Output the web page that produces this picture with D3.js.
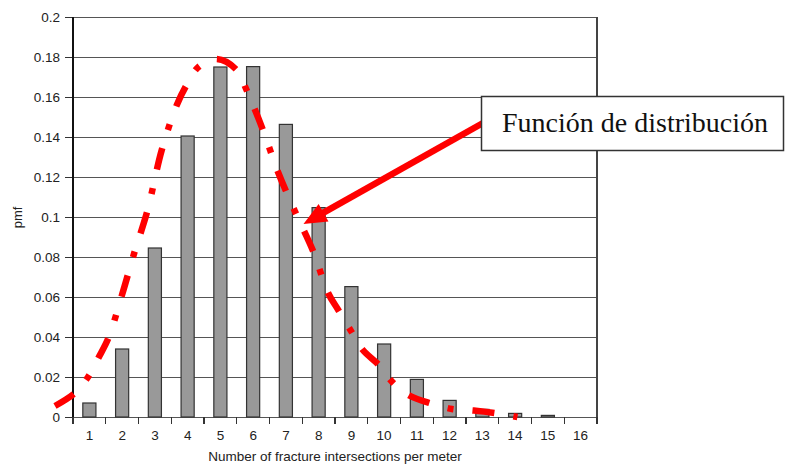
<!DOCTYPE html>
<html>
<head>
<meta charset="utf-8">
<script src="https://cdn.jsdelivr.net/npm/d3@7"></script>
<style>
  html, body { margin: 0; padding: 0; background: #fff; }
  svg { display: block; }
</style>
</head>
<body>
<svg id="chart" width="785" height="464"></svg>
<script>
// ---- data ----
const categories = [1, 2, 3, 4, 5, 6, 7, 8, 9, 10, 11, 12, 13, 14, 15, 16];
const pmfValues = [0.007, 0.034, 0.0845, 0.1405, 0.175, 0.1752, 0.1463, 0.1047, 0.0652, 0.0365, 0.0188, 0.0083, 0.0038, 0.0018, 0.0008, 0];
const yTicks = [0, 0.02, 0.04, 0.06, 0.08, 0.1, 0.12, 0.14, 0.16, 0.18, 0.2];
const yTickLabels = ["0", "0.02", "0.04", "0.06", "0.08", "0.1", "0.12", "0.14", "0.16", "0.18", "0.2"];
// hand-drawn distribution curve (x in category units, pmf value)
const curveX = [-0.05, 0.56, 0.96, 1.27, 1.58, 1.99, 2.37, 2.77, 3.21, 3.67, 3.97, 4.33, 4.89, 5.5, 5.8, 6.3, 6.76, 7.28, 7.83, 8.29, 8.6, 9.0, 9.35, 9.84, 10.26, 10.8, 11.42, 12.07, 12.74, 13.44, 14.07];
const curveY = [0.0055, 0.012, 0.020, 0.0294, 0.0394, 0.0607, 0.082, 0.103, 0.1335, 0.156, 0.166, 0.175, 0.179, 0.1735, 0.1635, 0.1435, 0.1225, 0.1027, 0.083, 0.062, 0.0535, 0.0427, 0.0335, 0.026, 0.0173, 0.0105, 0.0068, 0.004, 0.0032, 0.0018, 0.0];
const yTitle = "pmf";
const xTitle = "Number of fracture intersections per meter";
const annotationText = "Función de distribución";

(function () {
// ---- layout ----
const pLeft = 73, pRight = 597, pTop = 17, pBottom = 417;
const svg = d3.select("#chart");
svg.append("rect").attr("width", 785).attr("height", 464).attr("fill", "#fff");

const x = d3.scaleBand().domain(categories).range([pLeft, pRight]).padding(0);
const xLin = d3.scaleLinear().domain([0.5, 16.5]).range([pLeft, pRight]);
const y = d3.scaleLinear().domain([0, 0.2]).range([pBottom, pTop]);

const sansFont = "'Liberation Sans', Arial, sans-serif";

// gridlines
svg.append("g")
  .attr("transform", `translate(${pLeft},0)`)
  .call(d3.axisLeft(y).tickValues(yTicks).tickSize(-(pRight - pLeft)).tickFormat(""))
  .call(g => g.select(".domain").remove())
  .call(g => g.selectAll("line").attr("stroke", "#555").attr("stroke-width", 1).attr("shape-rendering", "crispEdges"));

// y axis ticks + labels
svg.append("g")
  .attr("transform", `translate(${pLeft},0)`)
  .call(d3.axisLeft(y).tickValues(yTicks).tickFormat((d, i) => yTickLabels[i]).tickSize(8).tickPadding(5))
  .call(g => g.select(".domain").remove())
  .call(g => g.selectAll("line").attr("stroke", "#333").attr("shape-rendering", "crispEdges"))
  .call(g => g.selectAll("text").attr("font-family", sansFont).attr("font-size", "13.5px").attr("fill", "#222"));

// bars
const barFrac = 0.4;
svg.append("g").selectAll("rect")
  .data(categories.map((c, i) => ({ c, v: pmfValues[i] })).filter(d => d.v > 0))
  .join("rect")
  .attr("x", d => x(d.c) + x.bandwidth() * (1 - barFrac) / 2)
  .attr("width", x.bandwidth() * barFrac)
  .attr("y", d => y(d.v))
  .attr("height", d => y(0) - y(d.v))
  .attr("fill", "#999999")
  .attr("stroke", "#333")
  .attr("stroke-width", 1.2);

// left axis line and right border
svg.append("line").attr("x1", pLeft).attr("x2", pLeft).attr("y1", pTop).attr("y2", pBottom + 7)
  .attr("stroke", "#111").attr("stroke-width", 1.2).attr("shape-rendering", "crispEdges");
svg.append("line").attr("x1", pRight).attr("x2", pRight).attr("y1", pTop).attr("y2", pBottom + 7)
  .attr("stroke", "#444").attr("stroke-width", 1.2).attr("shape-rendering", "crispEdges");

// x-axis boundary ticks
const boundaries = d3.range(0, categories.length + 1).map(k => k + 0.5);
svg.append("g").selectAll("line")
  .data(boundaries)
  .join("line")
  .attr("x1", d => xLin(d)).attr("x2", d => xLin(d))
  .attr("y1", pBottom).attr("y2", pBottom + 7)
  .attr("stroke", "#333").attr("stroke-width", 1.2).attr("shape-rendering", "crispEdges");

// x labels
svg.append("g")
  .attr("transform", `translate(0,${pBottom})`)
  .call(d3.axisBottom(x).tickSize(0).tickPadding(13))
  .call(g => g.select(".domain").remove())
  .call(g => g.selectAll("text").attr("font-family", sansFont).attr("font-size", "13.5px").attr("fill", "#222"));

// axis titles
svg.append("text")
  .attr("x", (pLeft + pRight) / 2).attr("y", 461)
  .attr("text-anchor", "middle")
  .attr("font-family", sansFont).attr("font-size", "13.5px").attr("fill", "#222")
  .text(xTitle);
svg.append("text")
  .attr("transform", `translate(22,${(pTop + pBottom) / 2 + 0.5}) rotate(-90)`)
  .attr("text-anchor", "middle")
  .attr("font-family", sansFont).attr("font-size", "13px").attr("fill", "#222")
  .text(yTitle);

// dashed distribution curve
const line = d3.line()
  .x(d => xLin(d[0]))
  .y(d => y(d[1]))
  .curve(d3.curveCatmullRom.alpha(0.5));
svg.append("path")
  .attr("d", line(curveX.map((c, i) => [c, curveY[i]])))
  .attr("fill", "none")
  .attr("stroke", "#ff0000")
  .attr("stroke-width", 6.5)
  .attr("stroke-dasharray", "22,19,6,19")
  .attr("stroke-linecap", "butt");

// annotation arrow
const tail = [483, 123], tip = [303.5, 224];
const dx = tail[0] - tip[0], dy = tail[1] - tip[1];
const len = Math.hypot(dx, dy);
const ux = dx / len, uy = dy / len;
const headLen = 23, headHalf = 10;
const bx = tip[0] + ux * headLen, by = tip[1] + uy * headLen;
svg.append("line")
  .attr("x1", tail[0]).attr("y1", tail[1])
  .attr("x2", tip[0] + ux * (headLen - 2)).attr("y2", tip[1] + uy * (headLen - 2))
  .attr("stroke", "#ff0000").attr("stroke-width", 6.5);
svg.append("path")
  .attr("d", `M${tip[0]},${tip[1]} L${bx - uy * headHalf},${by + ux * headHalf} L${bx + uy * headHalf},${by - ux * headHalf} Z`)
  .attr("fill", "#ff0000");

// annotation box
svg.append("rect")
  .attr("x", 481.5).attr("y", 96.5).attr("width", 302).attr("height", 54)
  .attr("fill", "#fff").attr("stroke", "#333").attr("stroke-width", 1.5);
svg.append("text")
  .attr("x", 502).attr("y", 132)
  .attr("font-family", "'Liberation Serif', 'Times New Roman', serif")
  .attr("font-size", "28px").attr("fill", "#111")
  .text(annotationText);
})();
</script>
</body>
</html>
